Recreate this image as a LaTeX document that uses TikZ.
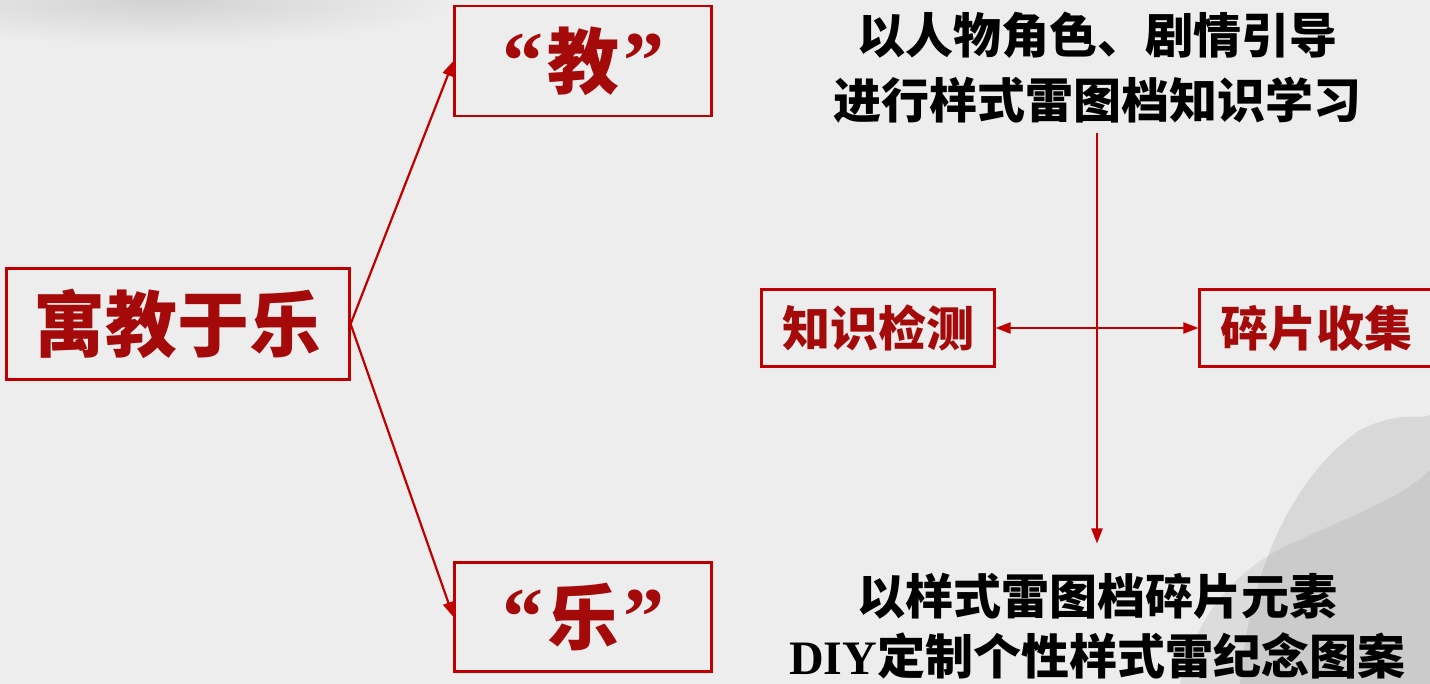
\documentclass[tikz,border=0pt]{standalone}
\usepackage{fontspec}
\setmainfont{Liberation Serif}
\newfontfamily\cjk{Noto Sans CJK SC}
\usetikzlibrary{positioning,calc,arrows.meta}
\definecolor{boxred}{HTML}{C00000}
\definecolor{txtred}{HTML}{A50A0A}
\definecolor{bggray}{HTML}{EDEDED}
\definecolor{inkgray}{HTML}{9A9A9A}
\newcommand{\hz}{\cjk\bfseries}
\newcommand{\qt}[1]{{\fontsize{82}{72}\selectfont“}\hspace{4pt}{\hz #1}\hspace{4pt}{\fontsize{82}{72}\selectfont”}}

\begin{document}
\begin{tikzpicture}[x=1pt,y=-1pt,>={Triangle[length=15pt,width=11pt]},
		main node/.style={draw=boxred, line width=2.2pt, rectangle, align=center, inner sep=0pt, text=txtred},
		link/.style={draw=boxred, line width=2.2pt, ->}]

	% background
	\fill[bggray] (0,0) rectangle (1430,684);
	\useasboundingbox (0,0) rectangle (1430,684);
	\shade[inner color=inkgray!45, outer color=bggray] (160,0) ellipse [x radius=300pt, y radius=45pt];
	\fill[inkgray, opacity=0.25] (1240,684) .. controls (1250,560) and (1300,470) .. (1360,430)
		.. controls (1400,410) and (1420,420) .. (1430,415) -- (1430,684) -- cycle;
	\fill[inkgray, opacity=0.2] (1180,684) .. controls (1200,600) and (1250,560) .. (1300,540)
		.. controls (1340,520) and (1400,500) .. (1430,470) -- (1430,684) -- cycle;

	\node[main node, minimum width=343pt, minimum height=111pt, font=\hz\fontsize{72}{72}\selectfont] (1) at (178,324) {寓教于乐};
	\node[main node, minimum width=257pt, minimum height=110pt, font=\fontsize{72}{72}\selectfont\bfseries] (2) at (583,61) {\qt{教}};
	\node[main node, minimum width=257pt, minimum height=109pt, font=\fontsize{72}{72}\selectfont\bfseries] (3) at (583,617) {\qt{乐}};
	\node[main node, minimum width=233pt, minimum height=77pt, font=\hz\fontsize{48}{48}\selectfont] (4) at (878,328) {知识检测};
	\node[main node, minimum width=233pt, minimum height=77pt, font=\hz\fontsize{48}{48}\selectfont] (5) at (1316,328) {碎片收集};

	\node[align=center, font=\hz\fontsize{48}{65}\selectfont] (6) at (1097,68) {以人物角色、剧情引导\\进行样式雷图档知识学习};
	\node[align=center, font=\hz\fontsize{48}{60}\selectfont] (7) at (1097,626) {以样式雷图档碎片元素\\{\rmfamily\bfseries DIY}定制个性样式雷纪念图案};

	\draw[link] (1.east) -- (2.west);
	\draw[link] (1.east) -- (3.west);
	\draw[link, shorten <=6pt, shorten >=26pt] (6.south) -- (7.north);
	\draw[link, <->] (4.east) -- (5.west);
\end{tikzpicture}
\end{document}
